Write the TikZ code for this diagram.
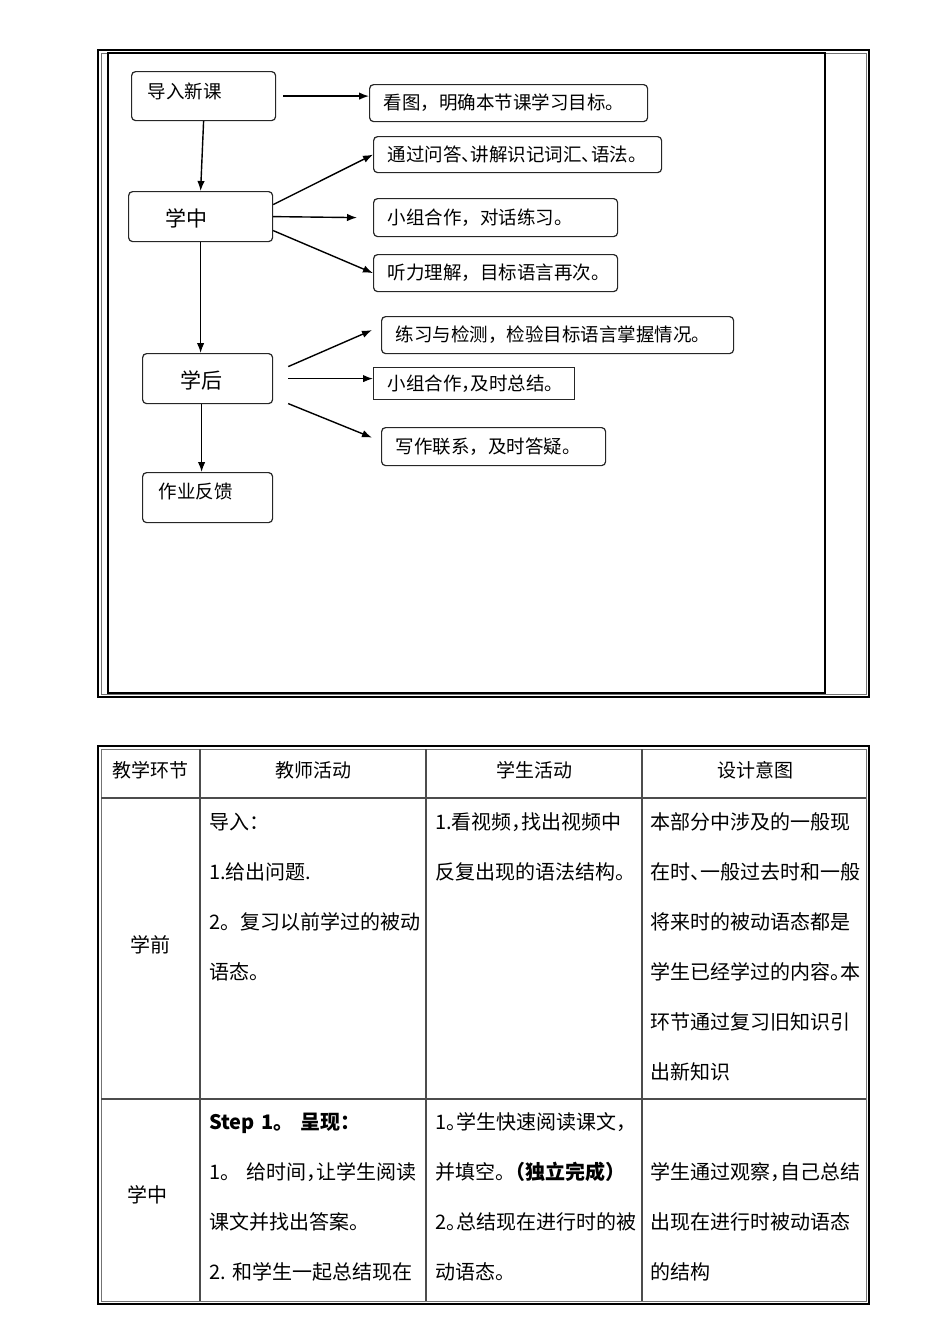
\documentclass[tikz,border=0pt]{standalone}
\usepackage{fontspec}
\setmainfont{Noto Sans CJK SC}
\usetikzlibrary{arrows.meta}
\newcommand{\hp}[1]{\makebox[0.5em][l]{#1}}

\tikzset{
  flowbox/.style={draw=black!85, line width=1.2pt, rounded corners=4pt, anchor=north west,
    inner xsep=14pt, inner ysep=0pt, align=left, font=\fontsize{18.5}{22}\selectfont},
  stagebox/.style={flowbox, font=\fontsize{21}{24}\selectfont},
  arr/.style={line width=1.4pt, -{Latex[length=10pt,width=7.5pt]}},
  frame/.style={line width=2pt},
  frameinner/.style={draw=black!55, line width=0.8pt},
  grid/.style={draw=black!70, line width=1.2pt},
  head/.style={inner sep=0pt, font=\fontsize{19}{22}\selectfont},
  cell/.style={anchor=base west, inner sep=0pt, align=left, text width=215pt,
    font=\fontsize{20}{50}\selectfont}
}

\begin{document}
\begin{tikzpicture}[x=1pt, y=-1pt]
  \useasboundingbox (0,0) rectangle (950,1344);

  % Frame round the flow chart
  \draw[frame] (98,50) rectangle (869,697);
  \draw[frameinner] (101,53) rectangle (866,694);
  \draw[line width=1.1pt] (108,53) rectangle (825,693);

  % Stages (left column)
  \node[flowbox, inner xsep=16pt, text width=112pt, minimum height=49pt, text depth=11pt] (intro) at (131,71) {导入新课};
  \node[stagebox, inner xsep=37pt, text width=70pt, minimum height=50pt, text height=22pt] (mid) at (128,191) {学中};
  \node[stagebox, inner xsep=38pt, text width=54pt, minimum height=50pt, text height=22pt] (after) at (142,353) {学后};
  \node[flowbox, inner xsep=16pt, text width=98pt, minimum height=50pt, text depth=14pt] (home) at (142,472) {作业反馈};

  % Activities (right column)
  \node[flowbox, text width=250pt, minimum height=37pt] (goal) at (369,84) {看图，明确本节课学习目标。};
  \node[flowbox, text width=260pt, minimum height=36pt] (qa) at (373,136) {通过问答\hp{、}讲解识记词汇\hp{、}语法\hp{。}};
  \node[flowbox, text width=216pt, minimum height=38pt] (pair) at (373,198) {小组合作，对话练习。};
  \node[flowbox, text width=216pt, minimum height=37pt] (listen) at (373,254) {听力理解，目标语言再次。};
  \node[flowbox, text width=324pt, minimum height=37pt] (test) at (381,316) {练习与检测，检验目标语言掌握情况。};
  \node[flowbox, sharp corners, text width=173pt, minimum height=32pt] (sum) at (373,367) {小组合作\hp{，}及时总结。};
  \node[flowbox, text width=196pt, minimum height=38pt] (write) at (381,427) {写作联系，及时答疑。};

  % Arrows
  \draw[arr] ([xshift=7pt]intro.east) -- (intro.east -| goal.west);
  \draw[arr] (intro.south) -- (mid.north);
  \draw[arr] ([yshift=12pt]mid.east) -- (qa.west);
  \draw[arr] (mid.east) -- ([xshift=-16pt]pair.west);
  \draw[arr] ([yshift=-14pt]mid.east) -- (listen.west);
  \draw[arr] (mid.south) -- (mid.south |- after.north);
  \draw[arr] ([shift={(15pt,12pt)}]after.east) -- ([shift={(-9pt,5pt)}]test.west);
  \draw[arr] ([xshift=15pt]after.east) -- (after.east -| sum.west);
  \draw[arr] ([shift={(15pt,-25pt)}]after.east) -- ([shift={(-9pt,9pt)}]write.west);
  \draw[arr] ([xshift=-6pt]after.south) -- ([xshift=-6pt]home.north);

  % Table
  \draw[frame] (98,746) rectangle (869,1304);
  \draw[frameinner] (101,749) rectangle (866,1301);
  \draw[grid] (101,798) -- (866,798);
  \draw[grid] (101,1099) -- (866,1099);
  \draw[grid] (200,749) -- (200,1301);
  \draw[grid] (426,749) -- (426,1301);
  \draw[grid] (642,749) -- (642,1301);

  % Header row
  \node[head] (h1) at (150,770) {教学环节};
  \node[head] (h2) at (313,770) {教师活动};
  \node[head] (h3) at (534,770) {学生活动};
  \node[head] (h4) at (755,770) {设计意图};

  % Row 1
  \node[head, font=\fontsize{20}{22}\selectfont] (r1) at (150,945) {学前};
  \node[cell] (t1) at (209,829) {导入：\\1.给出问题.\\2。复习以前学过的被动\\语态。};
  \node[cell] (s1) at (435,829) {1.看视频\hp{，}找出视频中\\反复出现的语法结构。};
  \node[cell] (d1) at (650,829) {本部分中涉及的一般现\\在时\hp{、}一般过去时和一般\\将来时的被动语态都是\\学生已经学过的内容\hp{。}本\\环节通过复习旧知识引\\出新知识};

  % Row 2
  \node[head, font=\fontsize{20}{22}\selectfont] (r2) at (147,1195) {学中};
  \node[cell] (t2) at (209,1129) {\textbf{Step 1。\ 呈现：}\\1。\ 给时间\hp{，}让学生阅读\\课文并找出答案。\\2.\ 和学生一起总结现在};
  \node[cell] (s2) at (435,1129) {1\hp{。}学生快速阅读课文\hp{，}\\并填空\hp{。}\textbf{（独立完成）}\\2\hp{。}总结现在进行时的被\\动语态。};
  \node[cell] (d2) at (650,1179) {学生通过观察\hp{，}自己总结\\出现在进行时被动语态\\的结构};
\end{tikzpicture}
\end{document}
